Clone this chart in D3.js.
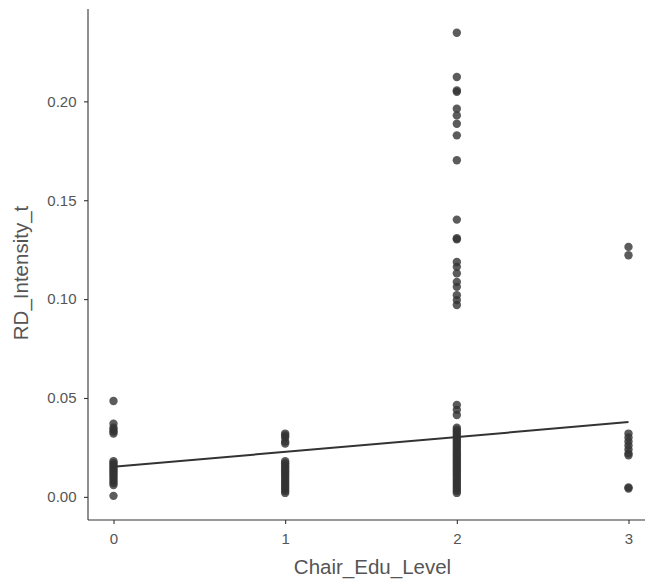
<!DOCTYPE html>
<html>
<head>
<meta charset="utf-8">
<script src="https://cdn.jsdelivr.net/npm/d3@7"></script>
<style>
  body { margin: 0; background: #fff; }
  svg { display: block; font-family: "Liberation Sans", Arial, sans-serif; }
</style>
</head>
<body>
<svg id="chart" width="645" height="580"></svg>
<script>
// Chair_Edu_Level values (x) and RD_Intensity_t readings (y) per level
var level0 = [0.0485, 0.037, 0.035, 0.034, 0.033, 0.032, 0.018, 0.017, 0.016, 0.015, 0.014,
  0.013, 0.012, 0.011, 0.010, 0.009, 0.008, 0.007, 0.006, 0.0005];
var level1 = [0.032, 0.031, 0.030, 0.028, 0.027, 0.018, 0.017, 0.016, 0.015, 0.014, 0.013,
  0.012, 0.011, 0.010, 0.009, 0.008, 0.007, 0.006, 0.005, 0.004, 0.003, 0.002];
var level2 = [0.2347, 0.2123, 0.2055, 0.2048, 0.1963, 0.1929, 0.1887, 0.1828, 0.1702, 0.1402,
  0.1308, 0.1302, 0.1188, 0.1163, 0.113, 0.1087, 0.1062, 0.102, 0.0995, 0.097,
  0.0465, 0.044, 0.0414, 0.035, 0.034, 0.033, 0.032, 0.031, 0.030, 0.029, 0.028, 0.027,
  0.026, 0.025, 0.024, 0.023, 0.022, 0.021, 0.020, 0.019, 0.018, 0.017, 0.016, 0.015,
  0.014, 0.013, 0.012, 0.011, 0.010, 0.009, 0.008, 0.007, 0.006, 0.005, 0.004, 0.003, 0.002];
var level3 = [0.1264, 0.1222, 0.032, 0.030, 0.028, 0.026, 0.024, 0.022, 0.021, 0.0048, 0.0042];
var levels = [0, 1, 2, 3];
var yTicks = [0, 0.05, 0.10, 0.15, 0.20];
// linear fit end points [x, y]
var fitLine = [[0, 0.0152], [3, 0.0378]];

var svg = d3.select('#chart');
var LEFT = 88;
var BOTTOM = 520;
var TOP = 9;

var x = d3.scaleLinear().domain([0, 3]).range([113.5, 628.5]);
var y = d3.scaleLinear().domain([-0.0117, 0.2467]).range([BOTTOM, TOP]);

var points = [];
[level0, level1, level2, level3].forEach(function(vals, i) {
  vals.forEach(function(v) { points.push({ x: levels[i], y: v }); });
});

// axes
var xAxis = d3.axisBottom(x).tickValues(levels).tickFormat(d3.format('d')).tickSize(4).tickSizeOuter(0);
var gx = svg.append('g').attr('transform', 'translate(0,' + BOTTOM + ')').call(xAxis);
gx.select('.domain').attr('d', 'M' + LEFT + ',0H645');

var yAxis = d3.axisLeft(y).tickValues(yTicks).tickFormat(d3.format('.2f')).tickSize(4).tickSizeOuter(0);
var gy = svg.append('g').attr('transform', 'translate(' + LEFT + ',0)').call(yAxis);
gy.select('.domain').attr('d', 'M0,' + TOP + 'V' + BOTTOM);

svg.selectAll('.domain').attr('stroke', '#333').attr('stroke-width', 1.1);
svg.selectAll('.tick line').attr('stroke', '#333').attr('stroke-width', 1.1);
svg.selectAll('.tick text')
  .style('fill', '#555')
  .attr('font-size', 15)
  .attr('font-family', '"Liberation Sans", Arial, sans-serif');
gx.selectAll('.tick text').attr('y', 24).attr('dy', 0);
gy.selectAll('.tick text').attr('x', -11.5);

// points
svg.append('g').selectAll('circle')
  .data(points)
  .enter()
  .append('circle')
  .attr('cx', function(d) { return x(d.x); })
  .attr('cy', function(d) { return y(d.y); })
  .attr('r', 4.2)
  .attr('fill', '#333')
  .attr('fill-opacity', 0.8);

// fit line
svg.append('path')
  .datum(fitLine)
  .attr('d', d3.line().x(function(d) { return x(d[0]); }).y(function(d) { return y(d[1]); }))
  .attr('fill', 'none')
  .attr('stroke', '#333')
  .attr('stroke-width', 2);

// titles
svg.append('text')
  .attr('x', 372.5).attr('y', 574)
  .attr('text-anchor', 'middle')
  .attr('font-size', 20.5).style('fill', '#555')
  .text('Chair_Edu_Level');

svg.append('text')
  .attr('transform', 'translate(28,273) rotate(-90)')
  .attr('text-anchor', 'middle')
  .attr('font-size', 20.5).style('fill', '#555')
  .text('RD_Intensity_t');
</script>
</body>
</html>
